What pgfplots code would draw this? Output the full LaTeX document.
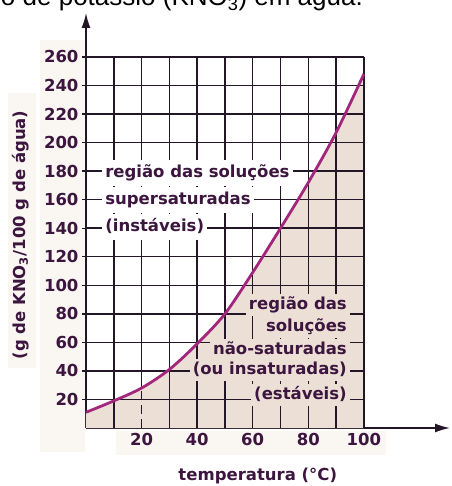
\documentclass[border=0pt]{standalone}
\usepackage{pgfplots}
\pgfplotsset{compat=1.18}
\usepackage{pgfplotstable}
\usepackage{fontspec}
\setmainfont{DejaVu Sans}
\newfontfamily\titlefont{Liberation Sans}
\usetikzlibrary{arrows.meta}
\definecolor{gridcol}{RGB}{35,22,38}
\definecolor{labelcol}{RGB}{60,22,62}
\definecolor{curvecol}{RGB}{162,38,124}
\definecolor{shade}{RGB}{236,223,214}
\definecolor{bgcol}{RGB}{250,246,242}

\pgfplotstableread{
x y
0 11
10 19
20 28
30 41
40 59
50 80
60 109
70 140
80 172
90 207
100 248
}\kno

\begin{document}
\begin{tikzpicture}
% light stippled background of the scan
\fill[bgcol] (-46pt,-24pt) rectangle (-1pt,388pt);
\fill[bgcol] (-78pt,60pt) rectangle (-50pt,335pt);
\fill[bgcol] (30pt,-27pt) rectangle (300pt,-3pt);
\begin{axis}[
  scale only axis, width=364pt, height=415pt,
  xmin=0, xmax=131, ymin=0, ymax=290.8,
  axis lines=left,
  clip=false,
  axis line style={line width=1.6pt, draw=gridcol, -{Latex[length=15pt,width=9pt]}},
  xtick={20,40,60,80,100}, ytick={20,40,...,260},
  x tick style={draw=none},
  y tick style={line width=1.4pt, draw=gridcol},
  ytick align=outside, major tick length=4pt,
  /pgf/number format/assume math mode=true,
  tick label style={font=\fontsize{16.5}{18}\selectfont\bfseries, text=labelcol},
  xlabel={temperatura (°C)},
  ylabel={(g de KNO\textsubscript{3}/100 g de água)},
  label style={font=\fontsize{16.5}{18}\selectfont\bfseries, text=labelcol},
  xlabel style={at={(axis description cs:0.472,-0.1277)}, anchor=base},
  ylabel style={at={(axis description cs:-0.18,0.465)}, anchor=center},
]
% region below the curve
\addplot[draw=none, fill=shade, smooth] table[x=x,y=y]{\kno} \closedcycle;
% grid
\pgfplotsinvokeforeach{10,30,40,50,60,70,80,90,100}{
  \draw[gridcol, line width=1.5pt] (#1,0) -- (#1,260);
}
\draw[gridcol, line width=1.5pt] (20,28) -- (20,260);
\draw[gridcol, line width=1.5pt, dash pattern=on 9pt off 5pt] (20,0) -- (20,28);
\pgfplotsinvokeforeach{20,40,...,260}{
  \draw[gridcol, line width=1.5pt] (0,#1) -- (100,#1);
}
% region texts
\begin{scope}[every node/.style={font=\fontsize{16.5}{18}\selectfont\bfseries, text=labelcol, text height=12.5pt, text depth=3.5pt, inner ysep=5pt, inner xsep=3pt}]
\node[fill=white, anchor=west] at (5.8,179) {região das soluções};
\node[fill=white, anchor=west] at (5.8,160) {supersaturadas};
\node[fill=white, anchor=west] at (5.8,140.5) {(instáveis)};
\node[fill=shade, anchor=east, inner ysep=3pt] at (95,86.2) {região das};
\node[fill=shade, anchor=east, inner ysep=3pt] at (95,70.8) {soluções};
\node[fill=shade, anchor=east, inner ysep=3pt] at (95,54.7) {não-saturadas};
\node[fill=shade, anchor=east, inner ysep=3pt] at (95,40.6) {(ou insaturadas)};
\node[fill=shade, anchor=east, inner ysep=3pt] at (95,23.1) {(estáveis)};
\end{scope}
% solubility curve
\addplot[curvecol, line width=2.8pt, smooth] table[x=x,y=y]{\kno};
\end{axis}
\node[anchor=base east, inner sep=0pt, font=\titlefont\fontsize{26}{30}\selectfont, text=black]
  at (277pt,422pt) {o de potássio (KNO\textsubscript{3}) em água.};
\pgfresetboundingbox
\path (-86pt,-58pt) rectangle (365pt,428pt);
\end{tikzpicture}
\end{document}
